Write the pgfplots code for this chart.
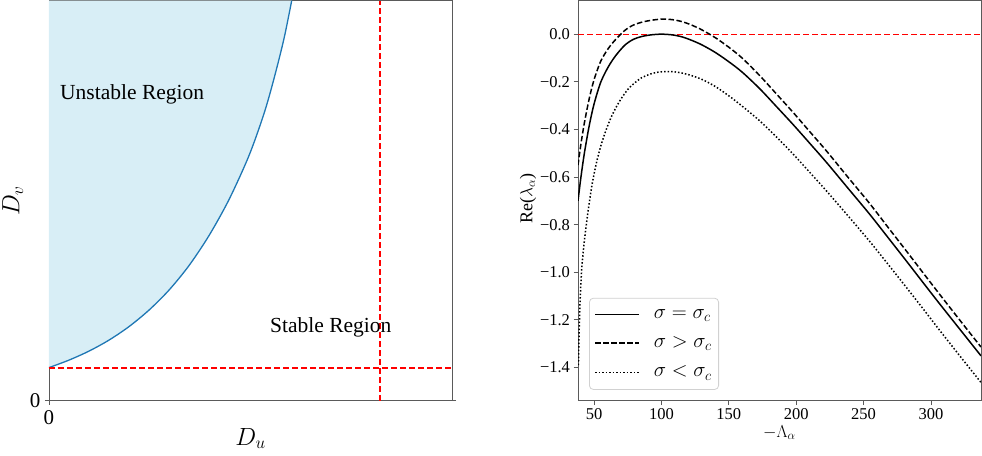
\documentclass[border=0pt]{standalone}
\usepackage{pgfplots}
\pgfplotsset{compat=1.18}
\usepackage{fontspec}
\setmainfont{Liberation Serif}

\definecolor{regionfill}{RGB}{216,238,246}
\definecolor{curveblue}{RGB}{31,119,180}
\definecolor{spine}{RGB}{90,90,90}
\definecolor{refred}{RGB}{255,0,0}

% Boundary of the unstable region (D_u, D_v), in plot units
\pgfplotstableread{
x      y
0      33
20     40.5
40     49.5
60     60.5
80     74
100    90.5
120    110.5
140    135
160    165
180    201
200    245
215    287
225    322
235    362
242.7  400
}\boundary

% Re(lambda_alpha) against -Lambda_alpha, sigma = sigma_c
\pgfplotstableread{
x      y
38     -0.700
40     -0.608
42.5   -0.508
45.6   -0.406
48     -0.339
50.6   -0.279
55     -0.200
60.5   -0.137
66     -0.090
72.8   -0.046
79     -0.022
85.2   -0.010
92     -0.003
100     0.000
108    -0.003
115    -0.011
122    -0.025
130    -0.045
140    -0.077
150    -0.116
160    -0.160
172.9  -0.229
185    -0.302
197.6  -0.379
210    -0.458
222.4  -0.538
238    -0.644
254.5  -0.756
268    -0.853
281.7  -0.952
294    -1.042
306.4  -1.132
322    -1.243
337.2  -1.351
}\critical

% sigma > sigma_c
\pgfplotstableread{
x      y
38     -0.550
40     -0.468
42.5   -0.380
45.6   -0.290
48     -0.231
50.6   -0.179
55     -0.112
60.5   -0.060
66     -0.022
72.8    0.016
79      0.038
85.2    0.050
92      0.058
100     0.063
108     0.061
115     0.053
122     0.039
130     0.018
140    -0.015
150    -0.055
160    -0.101
172.9  -0.174
185    -0.249
197.6  -0.328
210    -0.409
222.4  -0.490
238    -0.598
254.5  -0.711
268    -0.810
281.7  -0.910
294    -1.001
306.4  -1.092
322    -1.205
337.2  -1.314
}\above

% sigma < sigma_c
\pgfplotstableread{
x      y
38.3   -1.390
38.8   -1.260
39.5   -1.130
40.3   -1.030
41.2   -0.955
42.5   -0.880
44     -0.808
46     -0.722
48.5   -0.630
51.5   -0.545
55     -0.468
58.5   -0.408
62     -0.357
66     -0.310
70.5   -0.267
75.3   -0.230
80     -0.205
85.2   -0.183
92     -0.167
98     -0.159
104.9  -0.157
112    -0.160
120    -0.170
130    -0.190
140    -0.220
150    -0.259
160    -0.303
172.9  -0.364
185    -0.430
197.6  -0.503
210    -0.580
222.4  -0.658
238    -0.760
254.5  -0.870
268    -0.965
281.7  -1.063
294    -1.152
306.4  -1.243
322    -1.355
337.2  -1.463
}\below

\newcommand{\tickfont}{\fontsize{16.5}{18}\selectfont}
\newcommand{\labfont}{\fontsize{21.5}{24}\selectfont}

\begin{document}
\begin{tikzpicture}
% ---------- left: (D_u, D_v) plane ----------
\begin{axis}[
  at={(0pt,0pt)}, anchor=south west,
  scale only axis, width=403pt, height=400pt,
  xmin=0, xmax=403, ymin=0, ymax=400,
  axis line style={spine, line width=0.9pt},
  xtick={0}, ytick={0},
  xticklabels={0}, yticklabels={0},
  tick align=outside, major tick length=4pt,
  tick style={spine, line width=0.8pt},
  ticklabel style={font=\fontsize{21}{22}\selectfont},
  xticklabel style={yshift=-2pt},
  yticklabel style={xshift=-1pt},
  xlabel={$D_u$}, ylabel={$D_v$},
  label style={font=\fontsize{23}{24}\selectfont},
  xlabel style={at={(axis description cs:0.5,-0.095)}, anchor=center},
  ylabel style={at={(axis description cs:-0.09,0.5)}, anchor=center},
  clip=true,
]
\addplot[fill=regionfill, draw=none, smooth] table[x=x, y=y] {\boundary}
  -- (axis cs:0,400) -- cycle;
\addplot[curveblue, line width=1.3pt, smooth] table[x=x, y=y] {\boundary};
\addplot[color=refred, line width=1.4pt, dash pattern=on 6pt off 3pt] coordinates {(0,32.6) (403,32.6)};
\addplot[color=refred, line width=1.4pt, dash pattern=on 6pt off 3pt] coordinates {(331,0) (331,400)};
\node[anchor=west, font=\labfont, inner sep=0pt] at (axis cs:11,306) {Unstable Region};
\node[anchor=west, font=\labfont, inner sep=0pt] at (axis cs:221,73) {Stable Region};
\end{axis}

% ---------- right: growth rate against wavenumber ----------
\begin{axis}[
  at={(529pt,0pt)}, anchor=south west,
  scale only axis, width=403pt, height=400pt,
  xmin=38, xmax=337.2, ymin=-1.539, ymax=0.141,
  axis line style={spine, line width=0.9pt},
  xtick={50,100,150,200,250,300},
  xticklabels={50,100,150,200,250,300},
  ytick={-1.4,-1.2,-1.0,-0.8,-0.6,-0.4,-0.2,0.0},
  yticklabels={−1.4,−1.2,−1.0,−0.8,−0.6,−0.4,−0.2,0.0},
  tick align=outside, major tick length=4.5pt,
  tick style={spine, line width=0.8pt},
  ticklabel style={font=\tickfont},
  xlabel={$-\Lambda_\alpha$}, ylabel={Re($\lambda_\alpha$)},
  label style={font=\fontsize{18}{20}\selectfont},
  xlabel style={at={(axis description cs:0.5,-0.08)}, anchor=center},
  ylabel style={at={(axis description cs:-0.124,0.505)}, anchor=center},
  legend cell align=left,
  legend image code/.code={\draw[#1] (0pt,0pt) -- (44pt,0pt);},
  legend style={
    at={(0.0273,0.0268)}, anchor=south west,
    draw=black!18, line width=0.8pt, rounded corners=4pt,
    fill=white, fill opacity=0.8, text opacity=1,
    font=\fontsize{21.5}{22}\selectfont,
    inner xsep=5pt, inner ysep=9pt,
    row sep=13pt,
    /tikz/every odd column/.style={column sep=12pt},
  },
]
\addplot[color=refred, line width=1.3pt, dash pattern=on 6pt off 3pt, forget plot] coordinates {(38,0) (337.2,0)};
\addplot[black, line width=1.5pt, smooth] table[x=x, y=y] {\critical};
\addlegendentry{$\sigma = \sigma_c$}
\addplot[black, line width=1.5pt, smooth, dash pattern=on 5.5pt off 2.5pt] table[x=x, y=y] {\above};
\addlegendentry{$\sigma > \sigma_c$}
\addplot[black, line width=1.5pt, smooth, dash pattern=on 1.5pt off 2pt] table[x=x, y=y] {\below};
\addlegendentry{$\sigma < \sigma_c$}
\end{axis}
\pgfresetboundingbox
\useasboundingbox (-49pt,-55pt) rectangle (933pt,400.6pt);
\end{tikzpicture}
\end{document}
